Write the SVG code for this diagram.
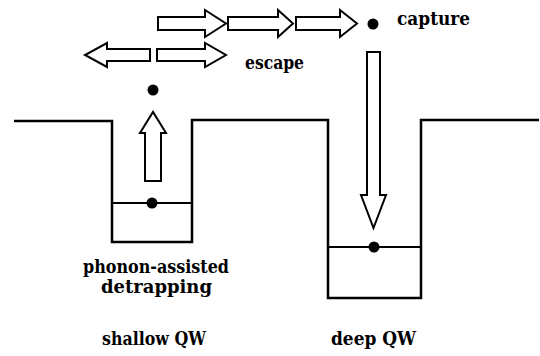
<svg xmlns="http://www.w3.org/2000/svg" width="540" height="356" viewBox="0 0 540 356">
<style>
.line{fill:none;stroke:#000;stroke-width:2.5;stroke-linejoin:miter}
.lvl{fill:none;stroke:#000;stroke-width:2}
.arr{fill:#fff;stroke:#000;stroke-width:2;stroke-linejoin:miter}
.dot{fill:#000}
.lbl{font-family:'DejaVu Serif','Liberation Serif',serif;font-weight:bold;font-size:19px;fill:#000}
</style>
<rect width="540" height="356" fill="#fff"/>
<g id="band-profile">
<path class="line" d="M14,121 H112 V242 H192 V120 H328 V298 H421 V120 H539"/>
</g>
<g id="shallow-level">
<line class="lvl" x1="112" y1="203" x2="192" y2="203"/>
<circle class="dot" cx="152" cy="203" r="5.5"/>
</g>
<g id="deep-level">
<line class="lvl" x1="328" y1="247" x2="421" y2="247"/>
<circle class="dot" cx="374" cy="247" r="5.5"/>
</g>
<g id="escaped-carrier">
<circle class="dot" cx="153" cy="90" r="5.5"/>
</g>
<g id="captured-carrier">
<circle class="dot" cx="373" cy="24" r="5.5"/>
</g>
<g id="connectors">
<polygon class="arr" points="158,17 205,17 205,10 226,23.5 205,37 205,30 158,30"/>
<polygon class="arr" points="228,17 278,17 278,10 293,23.5 278,37 278,30 228,30"/>
<polygon class="arr" points="296,17 340,17 340,10 357,23.5 340,37 340,30 296,30"/>
<polygon class="arr" points="150,49 107,49 107,43 85,55 107,67 107,61 150,61"/>
<polygon class="arr" points="157,49 205,49 205,43 226,55 205,67 205,61 157,61"/>
<polygon class="arr" points="145,181 145,133 140,133 153,112 166,133 161,133 161,181"/>
<polygon class="arr" points="367,52 380,52 380,195 386,195 373.5,228 361,195 367,195"/>
</g>
<g id="labels">
<text class="lbl" x="397" y="25" textLength="73" lengthAdjust="spacingAndGlyphs">capture</text>
<text class="lbl" x="245" y="69" textLength="59" lengthAdjust="spacingAndGlyphs">escape</text>
<text class="lbl" x="83" y="273" textLength="146" lengthAdjust="spacingAndGlyphs">phonon-assisted</text>
<text class="lbl" x="101" y="293" textLength="111" lengthAdjust="spacingAndGlyphs">detrapping</text>
<text class="lbl" x="102" y="345" textLength="104" lengthAdjust="spacingAndGlyphs">shallow QW</text>
<text class="lbl" x="331" y="345" textLength="85" lengthAdjust="spacingAndGlyphs">deep QW</text>
</g>
</svg>
